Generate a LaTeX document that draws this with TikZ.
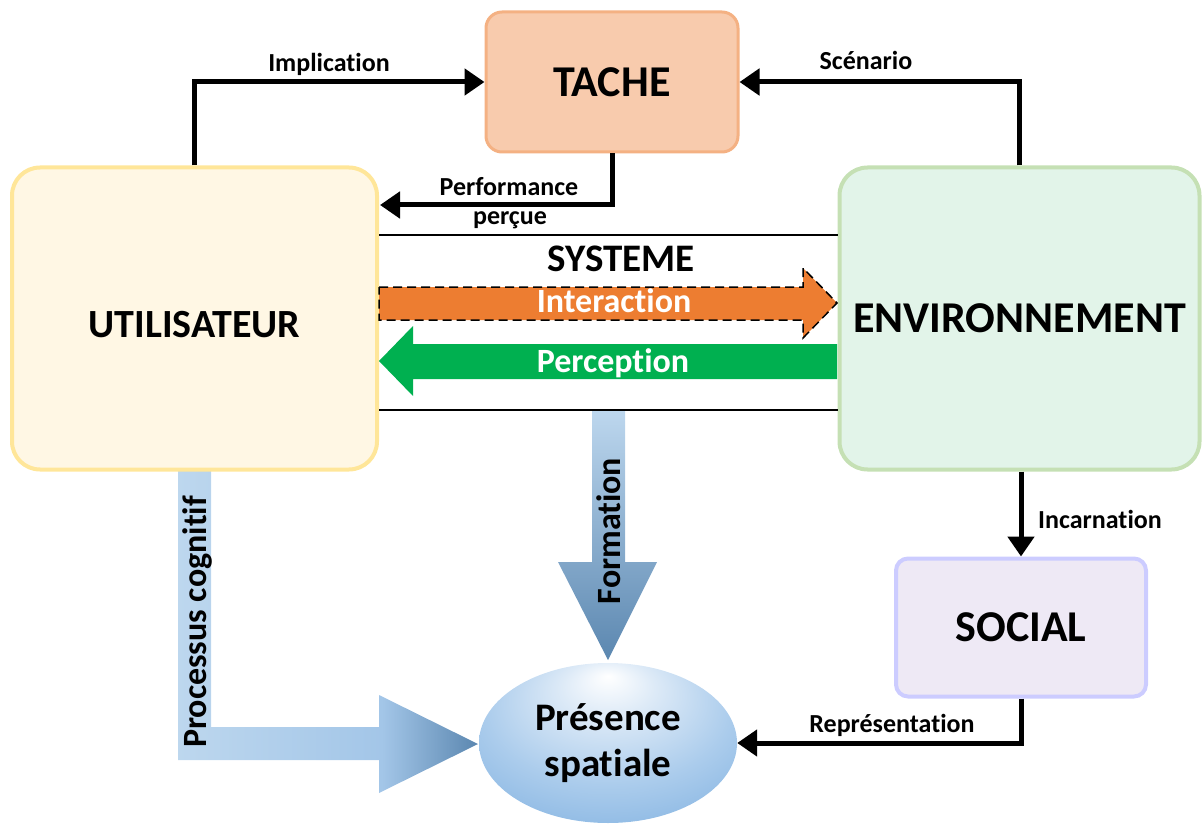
\documentclass[tikz,border=0pt]{standalone}
\usepackage{fontspec}
\setmainfont{Carlito}[RawFeature={-liga;-clig;-calt;-rlig;-dlig}]
\usetikzlibrary{arrows.meta,shapes.geometric}

\definecolor{tachefill}{HTML}{F8CBAD}
\definecolor{tacheline}{HTML}{F4B183}
\definecolor{userfill}{HTML}{FFF7E4}
\definecolor{userline}{HTML}{FFE699}
\definecolor{envfill}{HTML}{E2F4E9}
\definecolor{envline}{HTML}{C5E0B4}
\definecolor{socialfill}{HTML}{EEE9F5}
\definecolor{socialline}{HTML}{CCCCFF}
\definecolor{interorange}{HTML}{ED7D31}
\definecolor{percgreen}{HTML}{00B050}
\definecolor{bluelight}{HTML}{BDD7EE}
\definecolor{bluemid}{HTML}{A3C6E8}
\definecolor{bluedark}{HTML}{5B87B0}
\definecolor{presa}{HTML}{DDEAF7}
\definecolor{presb}{HTML}{ABCCEC}
\definecolor{presc}{HTML}{8AB7E3}
\definecolor{presd}{HTML}{6A9FD8}

\pgfdeclareradialshading{presence}{\pgfpoint{0bp}{21bp}}{color(0bp)=(white); color(9bp)=(presa); color(24bp)=(presb); color(36bp)=(presc); color(46bp)=(presd); color(50bp)=(presd)}
\pgfdeclarehorizontalshading{cognitif}{100bp}{color(0bp)=(bluelight); color(25bp)=(bluelight); color(59bp)=(bluemid); color(75bp)=(bluedark); color(100bp)=(bluedark)}

\begin{document}
\begin{tikzpicture}[x=1pt,y=-1pt,
  box/.style={draw,line width=4pt,rounded corners=28pt,inner sep=0pt,
    font=\fontsize{44}{52}\selectfont\bfseries},
  link/.style={line width=5pt,-{Triangle[length=20pt,width=26pt]}},
  lbl/.style={anchor=base,inner sep=0pt,font=\fontsize{26}{31}\selectfont\bfseries},
  band/.style={anchor=base,inner sep=0pt,text=white,font=\fontsize{34}{41}\selectfont\bfseries},
  flow/.style={rotate=90,inner sep=0pt,font=\fontsize{34}{41}\selectfont\bfseries},
  sysline/.style={line width=2pt}]
\useasboundingbox (0,0) rectangle (1203,824);

\shade[shading=cognitif] (178,470) -- (211,470) -- (211,727) -- (379,727) -- (379,695)
  -- (478,744) -- (379,793) -- (379,760) -- (178,760) -- cycle;
\node[flow] (cognitif) at (197,622) {Processus cognitif};

\shade[top color=bluelight,middle color=bluemid,bottom color=bluedark] (592,410) -- (625,410)
  -- (625,562) -- (657,562) -- (608,660) -- (558,562) -- (592,562) -- cycle;
\node[flow] (formation) at (609,531) {Formation};

\node[box,fill=tachefill,draw=tacheline,line width=3pt,rounded corners=16pt,
  minimum width=252pt,minimum height=140pt] (tache) at (612,82) {TACHE};
\node[box,fill=userfill,draw=userline,minimum width=365pt,minimum height=302pt,
  font=\fontsize{40}{48}\selectfont\bfseries,text height=37pt,text depth=0pt] (user) at (194.5,318.5) {UTILISATEUR};
\node[box,fill=envfill,draw=envline,minimum width=360pt,minimum height=302pt] (env) at (1019.5,318.5) {ENVIRONNEMENT};
\node[box,fill=socialfill,draw=socialline,rounded corners=12pt,
  minimum width=250pt,minimum height=138pt] (social) at (1021,627.5) {SOCIAL};
\node[ellipse,shade,shading=presence,minimum width=258pt,minimum height=160pt,inner sep=0pt,
  align=center,font=\fontsize{39}{46}\selectfont\bfseries] (presence) at (608,743) {Présence\\spatiale};

\draw[sysline] (user.east |- 0,235) -- (env.west |- 0,235);
\draw[sysline] (user.east |- 0,410) -- (env.west |- 0,410);
\node[lbl,font=\fontsize{39}{47}\selectfont\bfseries] (systeme) at (621,271) {SYSTEME};

\draw[fill=interorange,dash pattern=on 9pt off 5pt,line width=1.5pt] (379,287) -- (803,287) -- (803,268)
  -- (837,303) -- (803,338) -- (803,320) -- (379,320) -- cycle;
\node[band] (interaction) at (614,312) {Interaction};
\fill[percgreen] (837,344) -- (413,344) -- (413,326) -- (379,361) -- (413,396) -- (413,379) -- (837,379) -- cycle;
\node[band] (perception) at (613,372) {Perception};

\draw[link] (user.north) |- (tache.west);
\node[lbl] (implication) at (329,72) {Implication};
\draw[link] (env.north) |- (tache.east);
\node[lbl] (scenario) at (866,70) {Scénario};
\coordinate (perf) at (380,205);
\draw[link] (tache.south) |- (perf);
\node[lbl] (performance) at (509,196) {Performance};
\node[lbl] (percue) at (510,225) {perçue};
\draw[link] (env.south -| social.north) -- (social.north);
\node[lbl] (incarnation) at (1100,528) {Incarnation};
\draw[link] (social.south) |- (presence.east);
\node[lbl] (representation) at (892,732) {Représentation};
\end{tikzpicture}
\end{document}
